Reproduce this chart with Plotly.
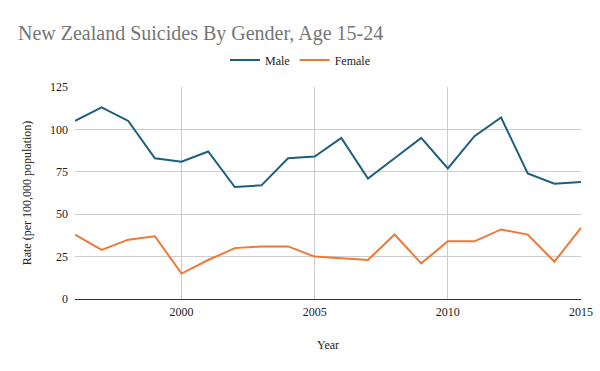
import plotly.graph_objects as go

years = list(range(1996, 2016))
male = [105, 113, 105, 83, 81, 87, 66, 67, 83, 84, 95, 71, 83, 95, 77, 96, 107, 74, 68, 69]
female = [38, 29, 35, 37, 15, 23, 30, 31, 31, 25, 24, 23, 38, 21, 34, 34, 41, 38, 22, 42]

title_text = "New Zealand Suicides By Gender, Age 15-24"
x_title = "Year"
y_title = "Rate (per 100,000 population)"

MALE_COLOR = "#1c5f7d"
FEMALE_COLOR = "#f07837"
FONT = "Liberation Serif"
TXT = "#222222"

fig = go.Figure()
fig.add_trace(go.Scatter(x=years, y=male, name="Male", mode="lines",
                         line=dict(color=MALE_COLOR, width=2)))
fig.add_trace(go.Scatter(x=years, y=female, name="Female", mode="lines",
                         line=dict(color=FEMALE_COLOR, width=2)))

fig.update_layout(
    width=600, height=371,
    margin=dict(l=75, r=19, t=87, b=72, autoexpand=False),
    paper_bgcolor="white", plot_bgcolor="white",
    font=dict(family=FONT, size=12, color=TXT),
    title=dict(text=title_text, x=18 / 600, xref="container", xanchor="left",
               y=1 - 33 / 371, yref="container", yanchor="middle",
               pad=dict(l=0, r=0, t=0, b=0),
               font=dict(family=FONT, size=20, color="#757575")),
    legend=dict(orientation="h", xref="container", x=0.5, xanchor="center",
                yref="container", y=1 - 60 / 371, yanchor="middle",
                font=dict(family=FONT, size=12, color=TXT),
                itemwidth=30),
    showlegend=True,
)
fig.update_xaxes(
    range=[1996, 2015], tick0=2000, dtick=5, tickformat="d",
    showgrid=True, gridcolor="#cccccc", gridwidth=1,
    showline=True, linecolor="#333333", linewidth=1,
    zeroline=False, ticks="", ticklabelstandoff=2, automargin=False,
    tickfont=dict(family=FONT, size=12, color=TXT),
    title=dict(text=x_title, standoff=22, font=dict(family=FONT, size=12, color=TXT)),
)
fig.update_yaxes(
    range=[0, 125], tick0=0, dtick=25,
    showgrid=True, gridcolor="#cccccc", gridwidth=1,
    showline=False, zeroline=False, ticks="", ticklabelstandoff=6, automargin=False,
    tickfont=dict(family=FONT, size=12, color=TXT),
    title=dict(text=y_title, standoff=15, font=dict(family=FONT, size=12, color=TXT)),
)

fig.write_html("out.html", config={"displayModeBar": False},
               post_script="document.body.style.margin='0';document.body.style.overflow='hidden';")
